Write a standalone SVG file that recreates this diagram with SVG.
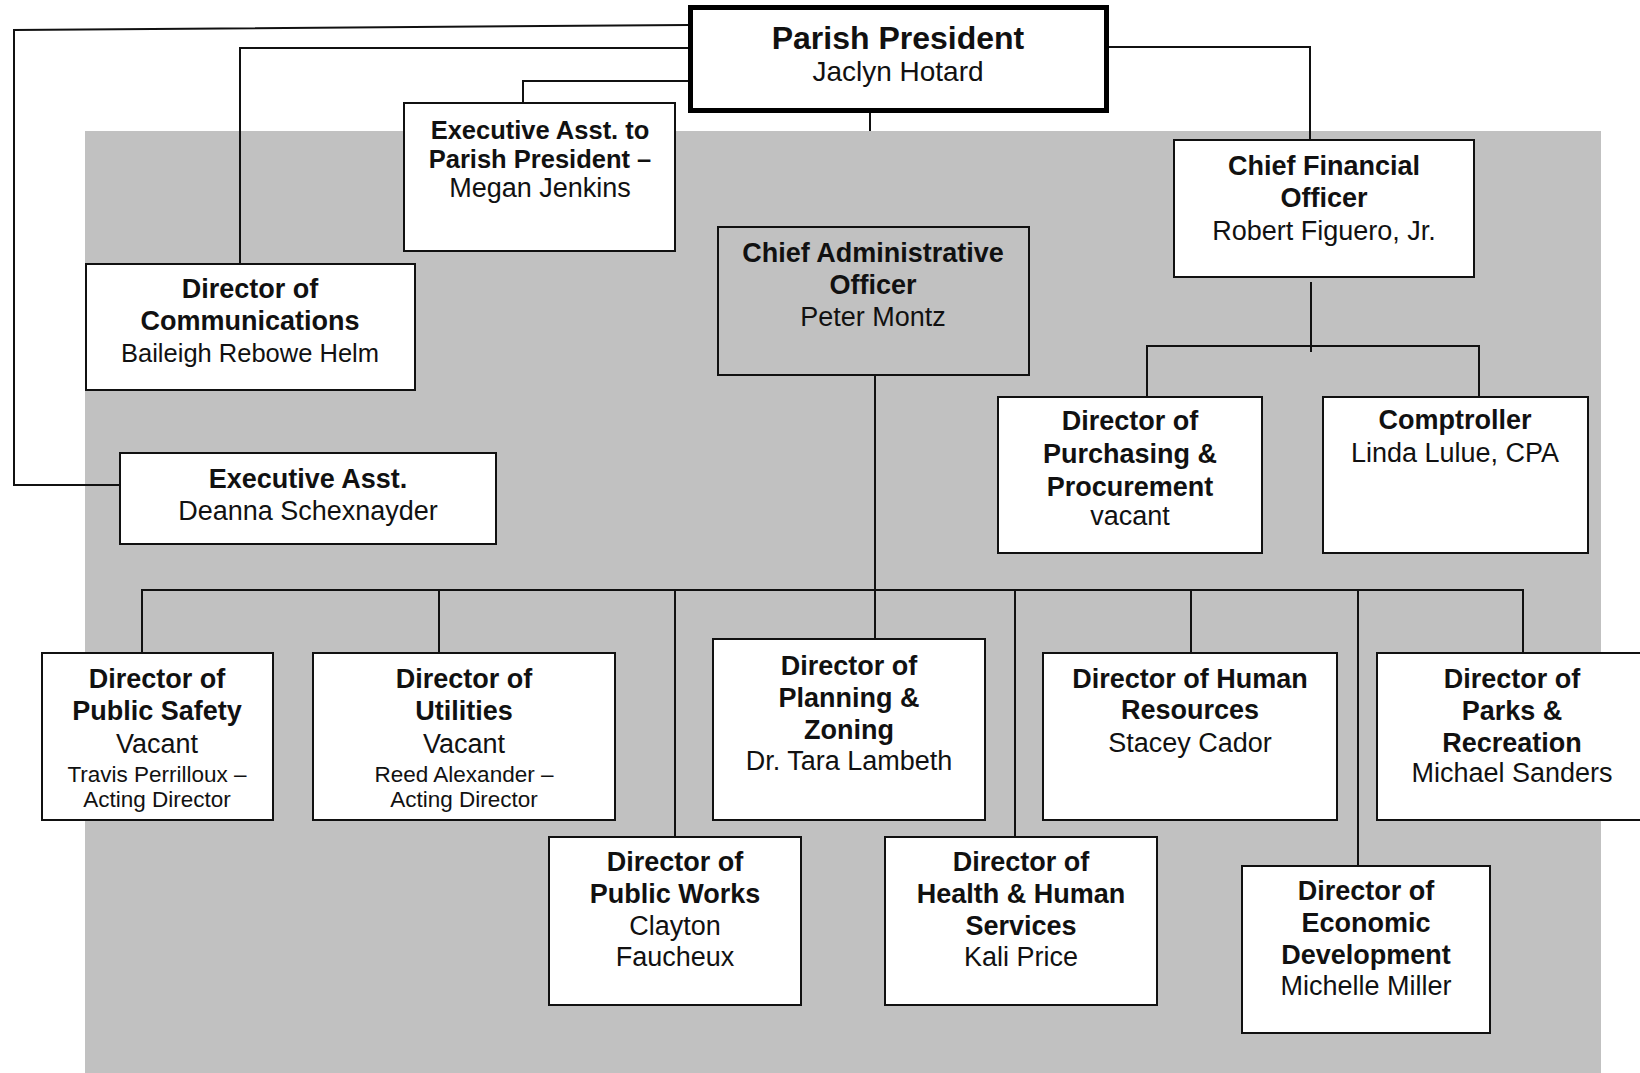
<svg xmlns="http://www.w3.org/2000/svg" width="1640" height="1073" viewBox="0 0 1640 1073">
<style>
.bg{fill:#c1c1c1}
.box{fill:#fff;stroke:#111;stroke-width:2}
.gbox{fill:#c1c1c1;stroke:#111;stroke-width:2}
.pp{fill:#fff;stroke:#000;stroke-width:5}
.conn{fill:none;stroke:#111;stroke-width:2}
text{font-family:"Liberation Sans",Arial,sans-serif;text-anchor:middle;fill:#111}
.b{font-size:27px;font-weight:bold}
.r{font-size:27px}
.s{font-size:22.5px}
</style>
<rect x="0" y="0" width="1640" height="1073" fill="#fff"/>
<rect class="bg" x="85" y="131" width="1516" height="942"/>
<g id="connectors">
<path class="conn" d="M688,25 L14,30 L14,485 L120,485"/>
<path class="conn" d="M688,48 L240,48 L240,264"/>
<path class="conn" d="M688,81 L523,81 L523,103"/>
<path class="conn" d="M870,113 L870,131"/>
<path class="conn" d="M1109,47 L1310,47 L1310,140"/>
<path class="conn" d="M1311,282 L1311,352"/>
<path class="conn" d="M1147,397 L1147,346 L1479,346 L1479,397"/>
<path class="conn" d="M875,375 L875,639"/>
<path class="conn" d="M142,653 L142,590 L1523,590 L1523,653"/>
<path class="conn" d="M439,590 L439,653"/>
<path class="conn" d="M675,590 L675,837"/>
<path class="conn" d="M1015,590 L1015,837"/>
<path class="conn" d="M1191,590 L1191,653"/>
<path class="conn" d="M1358,590 L1358,866"/>
</g>
<g id="parish-president">
<rect class="pp" x="690.5" y="7.5" width="416" height="103"/>
<text class="b" x="898" y="49" style="font-size:32px">Parish President</text>
<text class="r" x="898" y="81" style="font-size:28px">Jaclyn Hotard</text>
</g>
<g id="exec-asst-pp">
<rect class="box" x="404" y="103" width="271" height="148"/>
<text class="b" x="540" y="139" style="font-size:25.5px">Executive Asst. to</text>
<text class="b" x="540" y="168" style="font-size:25.5px">Parish President –</text>
<text class="r" x="540" y="197">Megan Jenkins</text>
</g>
<g id="cfo">
<rect class="box" x="1174" y="140" width="300" height="137"/>
<text class="b" x="1324" y="175">Chief Financial</text>
<text class="b" x="1324" y="207">Officer</text>
<text class="r" x="1324" y="240">Robert Figuero, Jr.</text>
</g>
<g id="dir-communications">
<rect class="box" x="86" y="264" width="329" height="126"/>
<text class="b" x="250" y="298">Director of</text>
<text class="b" x="250" y="330">Communications</text>
<text class="r" x="250" y="362" style="font-size:25.5px">Baileigh Rebowe Helm</text>
</g>
<g id="cao">
<rect class="gbox" x="718" y="227" width="311" height="148"/>
<text class="b" x="873" y="262">Chief Administrative</text>
<text class="b" x="873" y="294">Officer</text>
<text class="r" x="873" y="326">Peter Montz</text>
</g>
<g id="dir-purchasing">
<rect class="box" x="998" y="397" width="264" height="156"/>
<text class="b" x="1130" y="430">Director of</text>
<text class="b" x="1130" y="463">Purchasing &amp;</text>
<text class="b" x="1130" y="496">Procurement</text>
<text class="r" x="1130" y="525">vacant</text>
</g>
<g id="comptroller">
<rect class="box" x="1323" y="397" width="265" height="156"/>
<text class="b" x="1455" y="429">Comptroller</text>
<text class="r" x="1455" y="462">Linda Lulue, CPA</text>
</g>
<g id="exec-asst">
<rect class="box" x="120" y="453" width="376" height="91"/>
<text class="b" x="308" y="488">Executive Asst.</text>
<text class="r" x="308" y="520">Deanna Schexnayder</text>
</g>
<g id="dir-public-safety">
<rect class="box" x="42" y="653" width="231" height="167"/>
<text class="b" x="157" y="688">Director of</text>
<text class="b" x="157" y="720">Public Safety</text>
<text class="r" x="157" y="753">Vacant</text>
<text class="s" x="157" y="782">Travis Perrilloux –</text>
<text class="s" x="157" y="807">Acting Director</text>
</g>
<g id="dir-utilities">
<rect class="box" x="313" y="653" width="302" height="167"/>
<text class="b" x="464" y="688">Director of</text>
<text class="b" x="464" y="720">Utilities</text>
<text class="r" x="464" y="753">Vacant</text>
<text class="s" x="464" y="782">Reed Alexander –</text>
<text class="s" x="464" y="807">Acting Director</text>
</g>
<g id="dir-planning">
<rect class="box" x="713" y="639" width="272" height="181"/>
<text class="b" x="849" y="675">Director of</text>
<text class="b" x="849" y="707">Planning &amp;</text>
<text class="b" x="849" y="739">Zoning</text>
<text class="r" x="849" y="770">Dr. Tara Lambeth</text>
</g>
<g id="dir-hr">
<rect class="box" x="1043" y="653" width="294" height="167"/>
<text class="b" x="1190" y="688">Director of Human</text>
<text class="b" x="1190" y="719">Resources</text>
<text class="r" x="1190" y="752">Stacey Cador</text>
</g>
<g id="dir-parks">
<rect class="box" x="1377" y="653" width="271" height="167"/>
<text class="b" x="1512" y="688">Director of</text>
<text class="b" x="1512" y="720">Parks &amp;</text>
<text class="b" x="1512" y="752">Recreation</text>
<text class="r" x="1512" y="782">Michael Sanders</text>
</g>
<g id="dir-public-works">
<rect class="box" x="549" y="837" width="252" height="168"/>
<text class="b" x="675" y="871">Director of</text>
<text class="b" x="675" y="903">Public Works</text>
<text class="r" x="675" y="935">Clayton</text>
<text class="r" x="675" y="966">Faucheux</text>
</g>
<g id="dir-health">
<rect class="box" x="885" y="837" width="272" height="168"/>
<text class="b" x="1021" y="871">Director of</text>
<text class="b" x="1021" y="903">Health &amp; Human</text>
<text class="b" x="1021" y="935">Services</text>
<text class="r" x="1021" y="966">Kali Price</text>
</g>
<g id="dir-economic">
<rect class="box" x="1242" y="866" width="248" height="167"/>
<text class="b" x="1366" y="900">Director of</text>
<text class="b" x="1366" y="932">Economic</text>
<text class="b" x="1366" y="964">Development</text>
<text class="r" x="1366" y="995">Michelle Miller</text>
</g>
</svg>
